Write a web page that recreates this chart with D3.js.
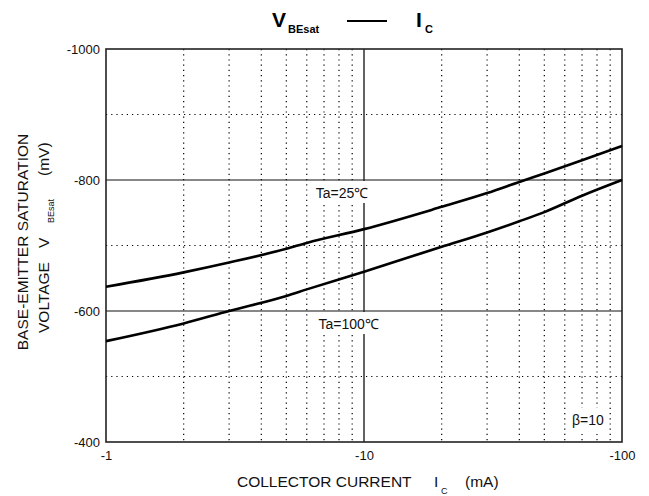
<!DOCTYPE html>
<html>
<head>
<meta charset="utf-8">
<script src="https://cdn.jsdelivr.net/npm/d3@7"></script>
<style>
  body { margin: 0; background: #fff; }
  svg { display: block; font-family: Arial, 'Liberation Sans', sans-serif; }
</style>
</head>
<body>
<svg id="chart" width="649" height="496"></svg>
<script>
'use strict';

// collector current (mA, shown negative on the axis)
var currents = [1, 2, 3, 5, 6, 10, 20, 30, 40, 50, 70, 100];
// base-emitter saturation voltage (mV)
var vbe25  = [-637, -659, -674, -695, -704, -725, -759, -780, -797, -810, -830, -852];
var vbe100 = [-554, -581, -600, -623, -633, -660, -698, -720, -737, -751, -776, -800];

var xTicks = [1, 10, 100];
var xTickLabels = ['-1', '-10', '-100'];
var yTicks = [-1000, -800, -600, -400];
var ySolid = [-800, -600];
var yDotted = [-900, -700, -500];
var xDotted = [2, 3, 4, 5, 6, 7, 8, 9, 20, 30, 40, 50, 60, 70, 80, 90];

// sizes
var margin = {top: 49, left: 106};
var width = 516;
var height = 393;

var svg = d3.select('#chart');
var g = svg.append('g')
    .attr('transform', 'translate(' + margin.left + ',' + margin.top + ')');

var x = d3.scaleLog().domain([1, 100]).range([0, width]);
var y = d3.scaleLinear().domain([-1000, -400]).range([0, height]);

// dotted grid
g.selectAll('.vdot').data(xDotted).enter().append('line')
    .attr('x1', function(d) { return x(d); }).attr('x2', function(d) { return x(d); })
    .attr('y1', 0).attr('y2', height)
    .attr('stroke', '#000').attr('stroke-width', 1.2).attr('stroke-dasharray', '1.2,4');

g.selectAll('.hdot').data(yDotted).enter().append('line')
    .attr('x1', 0).attr('x2', width)
    .attr('y1', function(d) { return y(d); }).attr('y2', function(d) { return y(d); })
    .attr('stroke', '#000').attr('stroke-width', 1.2).attr('stroke-dasharray', '1.2,4');

// solid grid
g.selectAll('.hsol').data(ySolid).enter().append('line')
    .attr('x1', 0).attr('x2', width)
    .attr('y1', function(d) { return y(d); }).attr('y2', function(d) { return y(d); })
    .attr('stroke', '#111').attr('stroke-width', 1.2);

g.append('line')
    .attr('x1', x(10)).attr('x2', x(10)).attr('y1', 0).attr('y2', height)
    .attr('stroke', '#222').attr('stroke-width', 1.4);

// frame
g.append('rect')
    .attr('width', width).attr('height', height)
    .attr('fill', 'none').attr('stroke', '#222').attr('stroke-width', 1.6);

// axes (labels only)
var xAxis = d3.axisBottom(x).tickValues(xTicks)
    .tickFormat(function(d, i) { return xTickLabels[i]; }).tickSize(0).tickPadding(9);
g.append('g').attr('transform', 'translate(0,' + height + ')').call(xAxis)
    .call(function(a) { a.select('.domain').remove(); })
    .selectAll('text').attr('font-size', 13).attr('fill', '#111')
    .attr('font-family', 'Arial, Liberation Sans, sans-serif');

var yAxis = d3.axisLeft(y).tickValues(yTicks)
    .tickFormat(function(d) { return String(d); }).tickSize(0).tickPadding(6);
g.append('g').call(yAxis)
    .call(function(a) { a.select('.domain').remove(); })
    .selectAll('text').attr('font-size', 13).attr('fill', '#111')
    .attr('font-family', 'Arial, Liberation Sans, sans-serif');

// boxed labels over the grid
function boxLabel(bx, by, bw, bh, txt, tx, ty) {
    g.append('rect').attr('x', bx).attr('y', by).attr('width', bw).attr('height', bh)
        .attr('fill', '#fff');
    g.append('text').attr('x', tx).attr('y', ty).attr('font-size', 14)
        .attr('fill', '#111').text(txt);
}
boxLabel(x(6.05), y(-800) + 1, 77, 22, 'Ta=25\u2103', x(6.05) + 8, y(-800) + 18);
boxLabel(x(6.2), y(-600) + 1, 87, 22, 'Ta=100\u2103', x(6.2) + 8, y(-600) + 18);
boxLabel(width - 54, height - 34, 40, 26, '\u03b2=10', width - 50, height - 17);

// curves
var line = d3.line()
    .x(function(d) { return x(d[0]); })
    .y(function(d) { return y(d[1]); })
    .curve(d3.curveMonotoneX);

[vbe25, vbe100].forEach(function(series) {
    g.append('path')
        .datum(currents.map(function(c, i) { return [c, series[i]]; }))
        .attr('d', line)
        .attr('fill', 'none').attr('stroke', '#000').attr('stroke-width', 2.6);
});

// title
var title = svg.append('g').attr('font-weight', 'bold').attr('fill', '#000');
title.append('text').attr('x', 272).attr('y', 27).attr('font-size', 21).text('V');
title.append('text').attr('x', 288).attr('y', 33).attr('font-size', 11).text('BEsat');
title.append('line').attr('x1', 347).attr('x2', 387).attr('y1', 21).attr('y2', 21)
    .attr('stroke', '#000').attr('stroke-width', 2);
title.append('text').attr('x', 416).attr('y', 27).attr('font-size', 21).text('I');
title.append('text').attr('x', 425).attr('y', 33).attr('font-size', 11).text('C');

// x axis title
var xt = svg.append('g').attr('fill', '#111').attr('font-size', 15.5);
xt.append('text').attr('x', 237).attr('y', 487).text('COLLECTOR CURRENT');
xt.append('text').attr('x', 434).attr('y', 487).text('I');
xt.append('text').attr('x', 441).attr('y', 494).attr('font-size', 9).text('C');
xt.append('text').attr('x', 465).attr('y', 487).text('(mA)');

// y axis title
var yt = svg.append('g').attr('fill', '#111').attr('font-size', 15.5)
    .attr('transform', 'rotate(-90)');
yt.append('text').attr('x', -242).attr('y', 28).attr('text-anchor', 'middle')
    .text('BASE-EMITTER SATURATION');
yt.append('text').attr('x', -333).attr('y', 49).text('VOLTAGE');
yt.append('text').attr('x', -248).attr('y', 49).text('V');
yt.append('text').attr('x', -223).attr('y', 54).attr('font-size', 9).text('BEsat');
yt.append('text').attr('x', -176).attr('y', 49).text('(mV)');
</script>
</body>
</html>
